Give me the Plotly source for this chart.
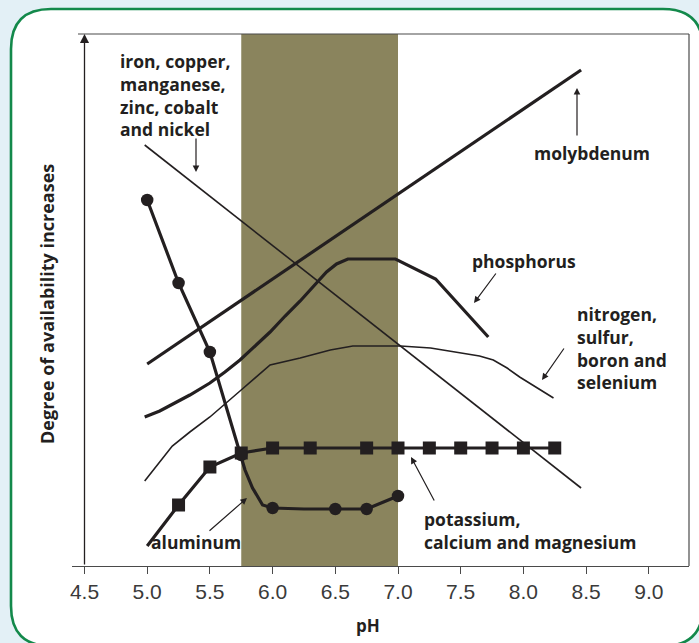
import plotly.graph_objects as go

# ---------------- data (pH vs. relative degree of availability) ----------------
band_ph = [5.75, 7.0]

al_line_ph = [5.0, 5.25, 5.5, 5.75, 5.78, 5.84, 5.92, 6.0, 6.25, 6.5, 6.75, 7.0]
al_line_y = [366, 283, 214, 111, 96, 78, 61, 58, 57, 57, 57, 70]
al_mark_ph = [5.0, 5.25, 5.5, 5.75, 6.0, 6.5, 6.75, 7.0]
al_mark_y = [366, 283, 214, 111, 58, 57, 57, 70]

k_ph = [5.0, 5.25, 5.5, 5.75, 6.0, 6.3, 6.75, 7.0, 7.25, 7.5, 7.75, 8.0, 8.25]
k_y = [20, 61, 99, 113, 118, 118, 118, 118, 118, 118, 118, 118, 118]

mo_ph = [5.0, 8.46]
mo_y = [202, 496]

fe_ph = [4.98, 8.46]
fe_y = [421, 78]

p_ph = [4.98, 5.10, 5.22, 5.34, 5.5, 5.62, 5.74, 5.86, 5.98, 6.10, 6.22, 6.35, 6.43,
        6.51, 6.6, 6.98, 7.3, 7.72]
p_y = [149, 155, 163, 171, 183, 194, 206, 220, 234, 250, 265, 283, 294,
       302, 307, 307, 287, 229]

n_ph = [4.98, 5.10, 5.2, 5.34, 5.5, 5.74, 5.98, 6.22, 6.46, 6.64, 7.02, 7.26, 7.52,
        7.65, 7.76, 7.87, 7.97, 8.11, 8.24]
n_y = [85, 104, 120, 134, 149, 175, 201, 208, 216, 220, 220, 218, 213,
       210, 206, 198, 189, 178, 168]

x_ticks = [4.5, 5.0, 5.5, 6.0, 6.5, 7.0, 7.5, 8.0, 8.5, 9.0]
x_tick_labels = ["4.5", "5.0", "5.5", "6.0", "6.5", "7.0", "7.5", "8.0", "8.5", "9.0"]

# ---------------- layout helpers (pixel -> coordinates) ----------------
W, H = 699, 643
L, R, T, B = 72, 689, 34, 566


def px2x(px):
    return 4.5 + (px - 84.5) / 125.4


def py2y(py):
    return B - py


def ppx(px):
    return (px - L) / (R - L)


def ppy(py):
    return (B - py) / (B - T)


INK = "#231f20"
BAND = "#8a845d"
GREEN = "#13894b"
BG = "#e3f0f6"

fig = go.Figure()

thick = dict(color=INK, width=3.2)
thin = dict(color=INK, width=1.6)

fig.add_trace(go.Scatter(x=fe_ph, y=fe_y, mode="lines", line=thin, hoverinfo="skip"))
fig.add_trace(go.Scatter(x=n_ph, y=n_y, mode="lines", line=thin, hoverinfo="skip"))
fig.add_trace(go.Scatter(x=mo_ph, y=mo_y, mode="lines", line=thick, hoverinfo="skip"))
fig.add_trace(go.Scatter(x=p_ph, y=p_y, mode="lines", line=thick, hoverinfo="skip"))
fig.add_trace(go.Scatter(x=k_ph, y=k_y, mode="lines", line=thick, hoverinfo="skip"))
fig.add_trace(go.Scatter(x=k_ph[1:], y=k_y[1:], mode="markers",
                         marker=dict(symbol="square", size=13, color=INK), hoverinfo="skip"))
fig.add_trace(go.Scatter(x=al_line_ph, y=al_line_y, mode="lines", line=thick, hoverinfo="skip"))
fig.add_trace(go.Scatter(x=al_mark_ph, y=al_mark_y, mode="markers",
                         marker=dict(symbol="circle", size=12.5, color=INK), hoverinfo="skip"))

# ---------------- shapes ----------------
l, t, r, b, rad = 11, 9, 703, 646, 40
path = (
    f"M {ppx(l)},{ppy(t + rad)} Q {ppx(l)},{ppy(t)} {ppx(l + rad)},{ppy(t)} "
    f"L {ppx(r - rad)},{ppy(t)} Q {ppx(r)},{ppy(t)} {ppx(r)},{ppy(t + rad)} "
    f"L {ppx(r)},{ppy(b - rad)} Q {ppx(r)},{ppy(b)} {ppx(r - rad)},{ppy(b)} "
    f"L {ppx(l + rad)},{ppy(b)} Q {ppx(l)},{ppy(b)} {ppx(l)},{ppy(b - rad)} Z"
)
shapes = [
    dict(type="path", path=path, xref="paper", yref="paper", fillcolor="white",
         line=dict(color=GREEN, width=2.6), layer="below"),
    dict(type="rect", xref="x", yref="paper", x0=band_ph[0], x1=band_ph[1], y0=0, y1=1,
         fillcolor=BAND, line=dict(width=0), layer="below"),
    dict(type="line", xref="paper", yref="paper", x0=ppx(78), x1=1, y0=1, y1=1,
         line=dict(color="#4a4a4a", width=1.2)),
    dict(type="line", xref="paper", yref="paper", x0=1, x1=1, y0=0, y1=1,
         line=dict(color="#4a4a4a", width=1.2)),
]

# ---------------- annotations ----------------
lab_font = dict(family="Open Sans", size=17.5, color=INK)
ann = []


def label(text, px, py, xanchor="left", align="left"):
    ann.append(dict(text=text, x=px2x(px), y=py2y(py), xref="x", yref="y",
                    xanchor=xanchor, yanchor="middle", align=align, showarrow=False,
                    font=lab_font))


def arrow(head, tail, width=1.2, size=1.1):
    ann.append(dict(text="", x=px2x(head[0]), y=py2y(head[1]), ax=px2x(tail[0]),
                    ay=py2y(tail[1]), xref="x", yref="y", axref="x", ayref="y",
                    showarrow=True, arrowhead=2, arrowsize=size, arrowwidth=width,
                    arrowcolor=INK))


label("<b>iron, copper,<br>manganese,<br>zinc, cobalt<br>and nickel</b>", 118, 95)
label("<b>molybdenum</b>", 592, 153, xanchor="center", align="center")
label("<b>phosphorus</b>", 524, 261, xanchor="center", align="center")
label("<b>nitrogen,<br>sulfur,<br>boron and<br>selenium</b>", 575, 348)
label("<b>potassium,<br>calcium and magnesium</b>", 422, 530)
label("<b>aluminum</b>", 196, 542, xanchor="center", align="center")

arrow((196, 172), (196, 137))
arrow((577, 88), (577, 137))
arrow((474, 303), (497, 272))
arrow((542, 380), (565, 347))
arrow((411, 457), (435, 502))
arrow((247, 498), (208, 532))
# y axis with arrow head
arrow((84.5, 34), (84.5, 566), width=1.3, size=1.4)

ann.append(dict(text="<b>Degree of availability increases</b>", xref="paper", yref="paper",
                x=ppx(47), y=ppy(304), textangle=-90, showarrow=False,
                xanchor="center", yanchor="middle",
                font=dict(family="Open Sans", size=18, color=INK)))
ann.append(dict(text="<b>pH</b>", xref="paper", yref="paper", x=ppx(368), y=ppy(625),
                showarrow=False, xanchor="center", yanchor="middle",
                font=dict(family="Open Sans", size=17, color=INK)))

fig.update_layout(
    width=W, height=H, autosize=False,
    margin=dict(l=L, r=W - R, t=T, b=H - B),
    paper_bgcolor=BG, plot_bgcolor="rgba(0,0,0,0)",
    showlegend=False, shapes=shapes, annotations=ann,
    xaxis=dict(range=[px2x(L), px2x(R)], tickvals=x_ticks, ticktext=x_tick_labels,
               showgrid=False, zeroline=False, showline=True, linecolor="#4a4a4a",
               linewidth=1.2, ticks="outside", ticklen=7, tickcolor="#4a4a4a",
               tickfont=dict(family="Liberation Sans Narrow, Liberation Sans", size=21,
                             color="#3a3a3a")),
    yaxis=dict(range=[0, B - T], visible=False, showgrid=False, zeroline=False),
)

fig.write_html(
    "out.html",
    config={"displayModeBar": False},
    post_script="document.body.style.margin='0';document.body.style.background='" + BG + "';",
)
